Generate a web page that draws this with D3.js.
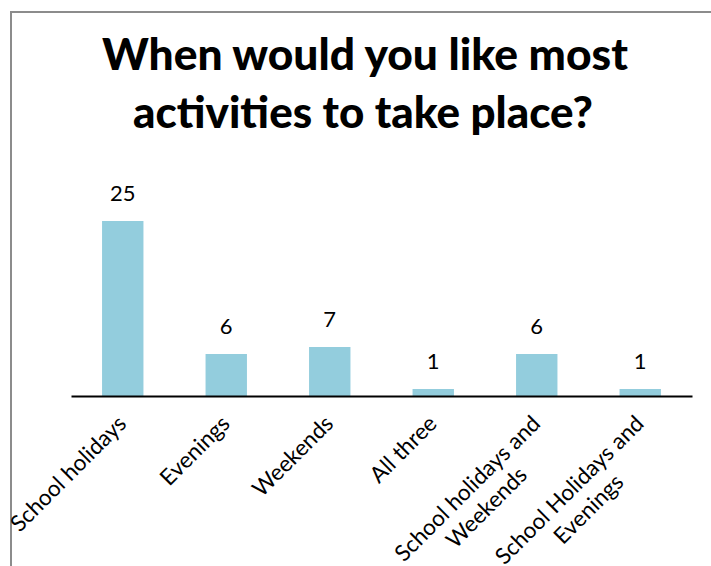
<!DOCTYPE html>
<html><head><meta charset="utf-8">
<script src="https://cdn.jsdelivr.net/npm/d3@7"></script>
<style>
html,body{margin:0;padding:0;background:#fff;}
svg{display:block;}
</style></head>
<body>
<svg id="chart" width="711" height="566"></svg>
<script>
const titleLines = ["When would you like most", "activities to take place?"];
const categories = ["School holidays", "Evenings", "Weekends", "All three", "School holidays and Weekends", "School Holidays and Evenings"];
const categoryLabelLines = [["School holidays"], ["Evenings"], ["Weekends"], ["All three"], ["School holidays and", "Weekends"], ["School Holidays and", "Evenings"]];
const values = [25, 6, 7, 1, 6, 1];

const svg = d3.select("#chart");
const FONT = "Lato, 'Open Sans', sans-serif";
const LABEL_SIZE = 22.5;

// outer border
svg.append("rect").attr("x", 11).attr("y", 12).attr("width", 760).attr("height", 700)
  .attr("fill", "#fff").attr("stroke", "#8c8c8c").attr("stroke-width", 2);

// title
const titleTargets = [{w: 526, cx: 365, y: 70}, {w: 460, cx: 363, y: 128}];
const title = svg.append("g");
titleLines.forEach((t, i) => {
  const el = title.append("text").text(t)
    .attr("x", titleTargets[i].cx).attr("y", titleTargets[i].y)
    .attr("text-anchor", "middle")
    .style("font-family", FONT).style("font-weight", "900").style("font-size", "38px")
    .attr("fill", "#000");
  const len = el.node().getComputedTextLength();
  el.style("font-size", (38 * titleTargets[i].w / len).toFixed(2) + "px");
});

const x = d3.scaleBand().domain(categories).range([71, 692]).paddingInner(0.6).paddingOuter(0.3);
const y = d3.scaleLinear().domain([0, 30]).range([396, 186]);

// bars
svg.append("g").selectAll("rect").data(values).join("rect")
  .attr("x", (d, i) => x(categories[i]))
  .attr("y", d => y(d))
  .attr("width", x.bandwidth())
  .attr("height", d => y(0) - y(d))
  .attr("fill", "#93cddd");

// value labels
svg.append("g").selectAll("text").data(values).join("text")
  .attr("x", (d, i) => x(categories[i]) + x.bandwidth() / 2)
  .attr("y", d => y(d) - 20)
  .attr("text-anchor", "middle")
  .style("font-family", FONT).style("font-size", "22px")
  .attr("fill", "#000")
  .text(d => d);

// x axis
const axis = svg.append("g").attr("transform", `translate(0,${y(0)})`)
  .call(d3.axisBottom(x).tickSize(0).tickSizeOuter(0).tickFormat(""));
axis.select(".domain").attr("stroke", "#000").attr("stroke-width", 2);

// rotated category labels
const lab = svg.append("g");
categoryLabelLines.forEach((lines, i) => {
  const cx = x(categories[i]) + x.bandwidth() / 2;
  const g = lab.append("g").attr("transform", `translate(${cx + 5},${y(0) + 29}) rotate(-45)`);
  const first = g.append("text").style("font-family", FONT).style("font-size", LABEL_SIZE + "px").attr("fill", "#000")
    .attr("x", 0).attr("y", 0).attr("text-anchor", "end").text(lines[0]);
  const w0 = first.node().getComputedTextLength();
  lines.slice(1).forEach((ln, j) => {
    g.append("text").style("font-family", FONT).style("font-size", LABEL_SIZE + "px").attr("fill", "#000")
      .attr("x", -w0 / 2).attr("y", LABEL_SIZE * 1.2 * (j + 1)).attr("text-anchor", "middle").text(ln);
  });
});
</script>
</body></html>
